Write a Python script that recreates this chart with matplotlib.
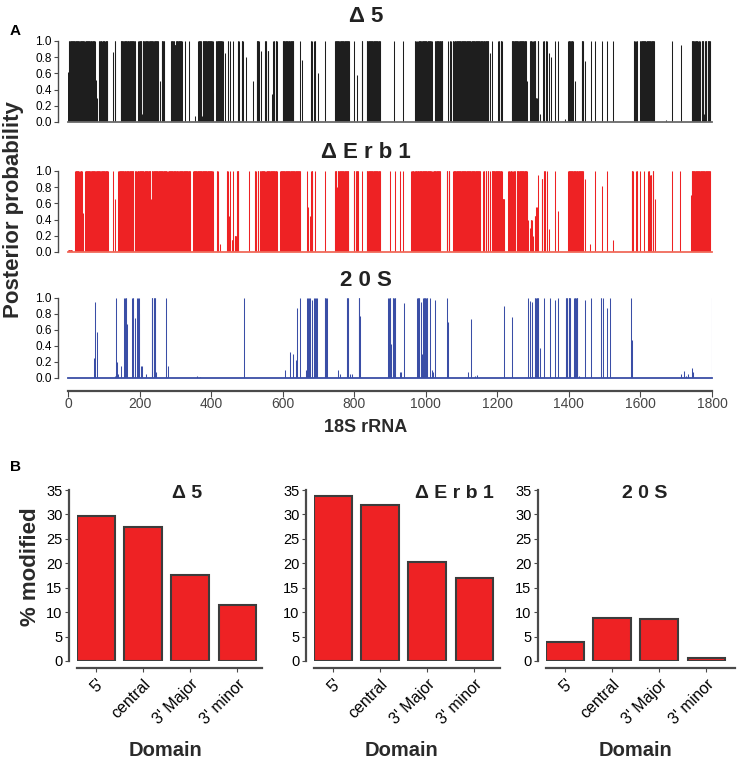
import numpy as np
import matplotlib
matplotlib.use("Agg")
import matplotlib.pyplot as plt

plt.rcParams['font.family'] = ['Liberation Sans', 'DejaVu Sans']

# ---------------- data: posterior probability segments (start, end, height) ----------------
d5_segments = [
    (1,1,0.62),(3,30,1),(32,45,1),(46,46,0.15),(48,65,1),(67,75,1),(77,77,0.52),(80,80,0.3),
    (87,93,1),(96,102,1),(104,110,1),(127,127,0.87),(130,131,1),(147,152,1),(154,163,1),(165,187,1),
    (197,205,1),(207,207,0.1),(209,215,1),(217,225,1),(227,238,1),(240,252,1),(257,257,0.5),(262,268,1),
    (288,296,1),(298,300,0.95),(302,318,1),(327,327,1),(339,339,1),(355,355,0.07),(364,372,1),(374,374,0.07),
    (376,404,1),(406,406,0.36),(414,432,1),(439,439,0.85),(446,447,1),(453,453,1),(462,462,1),(474,475,1),
    (479,479,1),(485,488,1),(498,498,0.8),(516,516,0.5),(527,533,1),(540,540,0.88),(551,554,1),(558,560,0.88),
    (571,571,0.35),(574,576,1),(580,583,1),(600,613,1),(615,630,1),(649,649,1),(653,653,0.77),(679,681,1),
    (688,690,1),(700,700,0.6),(718,718,1),(746,760,1),(762,786,1),(799,799,1),(809,809,0.58),(821,823,1),
    (835,872,1),(912,912,1),(935,935,1),(970,972,1),(976,977,1),(980,986,1),(988,1002,1),(1004,1016,1),
    (1026,1035,1),(1037,1046,1),(1061,1061,1),(1068,1070,1),(1075,1077,1),(1080,1125,1),(1127,1160,1),
    (1162,1175,1),(1180,1180,0.85),(1184,1184,1),(1203,1205,1),(1209,1212,1),(1240,1258,1),(1260,1280,1),
    (1284,1284,0.5),(1291,1296,1),(1298,1298,0.55),(1301,1306,1),(1308,1310,0.3),(1313,1315,1),(1320,1320,0.1),
    (1329,1331,1),(1336,1338,1),(1345,1345,0.85),(1349,1349,0.8),(1361,1361,1),(1370,1370,1),(1389,1389,0.04),
    (1398,1403,1),(1406,1411,1),(1417,1417,0.5),(1436,1440,1),(1445,1445,0.75),(1461,1461,1),(1473,1473,1),
    (1492,1492,1),(1506,1506,1),(1524,1524,1),(1582,1584,1),(1588,1590,1),(1599,1615,1),(1617,1638,1),
    (1671,1671,0.02),(1689,1689,1),(1712,1712,0.95),(1743,1750,1),(1752,1760,1),(1762,1762,0.25),
    (1764,1766,1),(1771,1776,1),(1778,1778,0.1),(1780,1784,1),(1788,1795,1),
]

erb1_segments = [
    (1,10,0.02),(20,30,1),(32,32,0.75),(34,38,1),(42,42,0.48),(48,62,1),(64,78,1),(80,92,1),(94,110,1),
    (113,113,1),(127,127,1),(131,131,0.65),(141,160,1),(162,183,1),(187,190,1),(192,192,0.08),(194,211,1),
    (213,230,1),(232,232,0.65),(234,276,1),(280,300,1),(302,310,1),(312,341,1),(350,404,1),(406,406,0.4),
    (416,418,1),(420,420,0.95),(425,425,0.1),(444,446,1),(449,449,0.45),(453,453,1),(458,460,0.15),(462,462,1),
    (466,470,0.2),(472,476,1),(507,507,1),(523,525,1),(530,532,1),(537,550,1),(552,552,0.15),(554,583,1),
    (593,649,1),(667,667,1),(671,671,0.55),(676,676,0.45),(680,683,1),(690,690,1),(718,718,1),(746,750,1),
    (752,752,0.8),(754,784,1),(798,800,1),(805,811,1),(821,821,1),(835,872,1),(900,900,1),(914,914,1),
    (928,928,1),(935,935,1),(960,966,1),(970,979,1),(981,1016,1),(1021,1040,1),(1058,1060,1),(1064,1066,1),
    (1077,1152,1),(1161,1163,1),(1167,1169,1),(1173,1175,1),(1180,1180,1),(1184,1212,1),(1214,1219,0.65),
    (1231,1233,1),(1236,1240,1),(1245,1249,1),(1254,1282,1),(1284,1284,0.95),(1287,1287,0.4),(1290,1290,0.3),
    (1293,1296,0.4),(1300,1300,0.2),(1305,1306,0.45),(1309,1310,0.55),(1315,1315,0.95),(1324,1326,0.9),
    (1330,1333,1),(1338,1338,1),(1345,1345,0.28),(1361,1361,1),(1370,1370,0.5),(1398,1420,1),(1422,1440,1),
    (1445,1445,0.9),(1459,1459,0.1),(1473,1473,1),(1492,1492,0.82),(1506,1506,1),(1524,1524,0.15),
    (1575,1578,1),(1588,1590,1),(1599,1599,1),(1611,1611,1),(1622,1624,1),(1628,1630,0.95),(1634,1636,1),
    (1641,1641,0.65),(1687,1687,1),(1711,1711,1),(1740,1740,0.7),(1743,1795,1),
]

s20_segments = [
    (73,73,0.25),(76,76,0.95),(80,80,0.58),(132,132,0.03),(134,134,1),(138,138,0.2),(141,141,0.05),
    (147,147,0.15),(157,158,1),(161,162,1),(164,164,0.68),(179,179,1),(182,183,1),(186,186,0.75),(194,195,1),
    (198,198,1),(199,199,0.8),(203,203,0.15),(206,206,0.15),(218,218,0.05),(234,236,1),(239,240,1),(242,243,1),
    (246,246,0.08),(273,273,1),(280,280,0.15),(360,360,0.03),(368,368,0.01),(493,493,1),(607,607,0.1),
    (621,621,0.32),(628,628,0.3),(637,637,0.22),(641,641,0.88),(648,648,1),(665,665,0.1),(669,670,1),
    (674,675,1),(681,681,0.98),(688,689,1),(692,692,1),(695,695,1),(697,697,0.2),(718,719,1),(722,723,1),
    (756,756,0.1),(760,760,0.05),(779,780,1),(783,784,1),(788,788,0.05),(793,793,0.05),(812,814,1),
    (816,816,0.78),(895,896,1),(899,900,1),(903,903,0.42),(908,910,1),(913,914,1),(928,928,0.07),
    (931,931,0.07),(939,939,0.94),(976,978,1),(981,982,1),(986,986,0.95),(989,989,0.3),(993,995,1),
    (998,1000,1),(1003,1004,1),(1012,1012,1),(1016,1016,0.1),(1019,1019,0.08),(1026,1026,0.98),(1058,1058,1),
    (1061,1061,0.7),(1117,1117,0.08),(1126,1126,0.74),(1138,1138,0.03),(1144,1144,0.04),(1219,1219,0.9),
    (1240,1240,0.76),(1287,1287,1),(1291,1291,0.96),(1296,1296,0.95),(1305,1307,1),(1310,1311,1),
    (1314,1315,1),(1319,1319,0.37),(1331,1331,1),(1347,1347,1),(1361,1361,0.98),(1370,1370,1),
    (1391,1392,1),(1395,1396,1),(1399,1403,1),(1413,1413,0.6),(1415,1417,1),(1421,1424,1),(1428,1428,0.03),
    (1445,1445,0.98),(1461,1461,1),(1490,1491,1),(1494,1494,1),(1506,1506,0.87),(1515,1515,1),
    (1573,1573,1),(1577,1577,0.48),(1713,1713,0.05),(1722,1722,0.09),(1728,1728,0.03),(1734,1734,0.05),
    (1743,1743,0.12),(1748,1748,0.07),(1800,1800,1),
]

row_titles = ["\u0394 5", "\u0394 E r b 1", "2 0 S"]
y_ticks_top = [0.0, 0.2, 0.4, 0.6, 0.8, 1.0]
x_ticks_top = [0, 200, 400, 600, 800, 1000, 1200, 1400, 1600, 1800]

# ---------------- data: % modified per domain ----------------
domains = ["5'", "central", "3' Major", "3' minor"]
pct_d5 = [29.7, 27.4, 17.7, 11.5]
pct_erb1 = [33.8, 32.0, 20.2, 17.0]
pct_20s = [3.8, 8.8, 8.6, 0.7]
bar_titles = ["\u0394 5", "\u0394 E r b 1", "2 0 S"]

# ---------------- figure ----------------
W, H = 737, 760
fig = plt.figure(figsize=(W/100, H/100), dpi=100)

def px_axes(left, top, right, bottom):
    return fig.add_axes([left/W, 1 - bottom/H, (right-left)/W, (bottom-top)/H])

GRAY = "#4a4a4a"
TXT = "#454545"

def build(segs, n=1800):
    vals = np.zeros(n)
    for s, e, h in segs:
        vals[s-1:e] = h
    return vals

pos = np.arange(1, 1801)
series = [(d5_segments, "#1e1e1e", "#6a6a6a"),
          (erb1_segments, "#ee2224", "#f06a5a"),
          (s20_segments, "#3a4ea6", "#3a4ea6")]
rows = [(41, 122), (171, 252), (298, 378)]
title_y = [17, 153, 281]

for i, ((segs, col, basecol), (top, bot)) in enumerate(zip(series, rows)):
    ax = px_axes(68, top, 712, bot)
    vals = build(segs)
    m = vals > 0
    ax.vlines(pos[m], 0, vals[m], color=col, lw=0.75)
    ax.axhline(0, color=basecol, lw=1.3, clip_on=False, zorder=3)
    ax.set_xlim(0, 1800)
    ax.set_ylim(0, 1.0)
    ax.set_yticks(y_ticks_top)
    ax.set_yticklabels([f"{v:.1f}" for v in y_ticks_top], color=TXT)
    for sp in ["top", "right"]:
        ax.spines[sp].set_visible(False)
    ax.spines["left"].set_position(("outward", 7))
    ax.spines["left"].set_color(GRAY)
    ax.spines["left"].set_linewidth(1.0)
    ax.tick_params(axis="y", length=3, width=0.8, color=GRAY, pad=1.5, labelsize=8.5)
    if i < 2:
        ax.spines["bottom"].set_visible(False)
        ax.set_xticks([])
    else:
        ax.spines["bottom"].set_position(("outward", 9))
        ax.spines["bottom"].set_color(GRAY)
        ax.spines["bottom"].set_linewidth(1.6)
        ax.set_xticks(x_ticks_top)
        ax.set_xticklabels([str(v) for v in x_ticks_top], color=TXT)
        ax.tick_params(axis="x", length=4, width=0.8, color=GRAY, pad=1, labelsize=10)
    fig.text(366/W, 1 - title_y[i]/H, row_titles[i], ha="center", va="center",
             fontsize=16, fontweight="bold", color="#222222")

fig.text(14/W, 1 - 210/H, "Posterior probability", rotation=90, ha="center", va="center",
         fontsize=16, fontweight="bold", color="#2a2a2a")
fig.text(366/W, 1 - 427/H, "18S rRNA", ha="center", va="center",
         fontsize=13, fontweight="bold", color="#2a2a2a")
fig.text(10/W, 1 - 31/H, "A", ha="left", va="center", fontsize=11, fontweight="bold", color="black")
fig.text(10/W, 1 - 467/H, "B", ha="left", va="center", fontsize=11, fontweight="bold", color="black")

# ---------------- panel B ----------------
bar_axes = [(77, 262, pct_d5, 187, 165), (314, 500, pct_erb1, 454, 402), (546, 735, pct_20s, 645, 635)]
xpos = np.arange(len(domains))
for j, (l, r, vals, tx, dx) in enumerate(bar_axes):
    ax = px_axes(l, 490, r, 661)
    ax.bar(xpos, vals, width=0.8, color="#ee2224", edgecolor="#3c3c3c", linewidth=1.5)
    ax.set_ylim(0, 35)
    ax.set_xlim(-0.4, -0.4 + (r - l) / 47.2)
    ax.set_yticks(range(0, 36, 5))
    ax.set_yticklabels([str(v) for v in range(0, 36, 5)], color=TXT)
    ax.set_xticks(xpos)
    ax.set_xticklabels(domains, color=TXT)
    for sp in ["top", "right"]:
        ax.spines[sp].set_visible(False)
    ax.spines["left"].set_position(("outward", 6))
    ax.spines["bottom"].set_position(("outward", 5))
    for sp in ["left", "bottom"]:
        ax.spines[sp].set_color(GRAY)
        ax.spines[sp].set_linewidth(1.6)
    ax.tick_params(axis="y", length=3, width=0.8, color=GRAY, pad=1.5, labelsize=10.5)
    ax.tick_params(axis="x", length=3, width=0.8, color=GRAY, pad=3, labelsize=11.5)
    for lab in ax.get_xticklabels():
        lab.set_rotation(45)
        lab.set_ha("right")
        lab.set_va("top")
        lab.set_rotation_mode("anchor")
    fig.text(tx/W, 1 - 494/H, bar_titles[j], ha="center", va="center",
             fontsize=14, fontweight="bold", color="#222222")
    fig.text(dx/W, 1 - 750/H, "Domain", ha="center", va="center",
             fontsize=14.5, fontweight="bold", color="#2a2a2a")

fig.text(30/W, 1 - 567/H, "% modified", rotation=90, ha="center", va="center",
         fontsize=16, fontweight="bold", color="#2a2a2a")

fig.savefig("out.png", dpi=100)
